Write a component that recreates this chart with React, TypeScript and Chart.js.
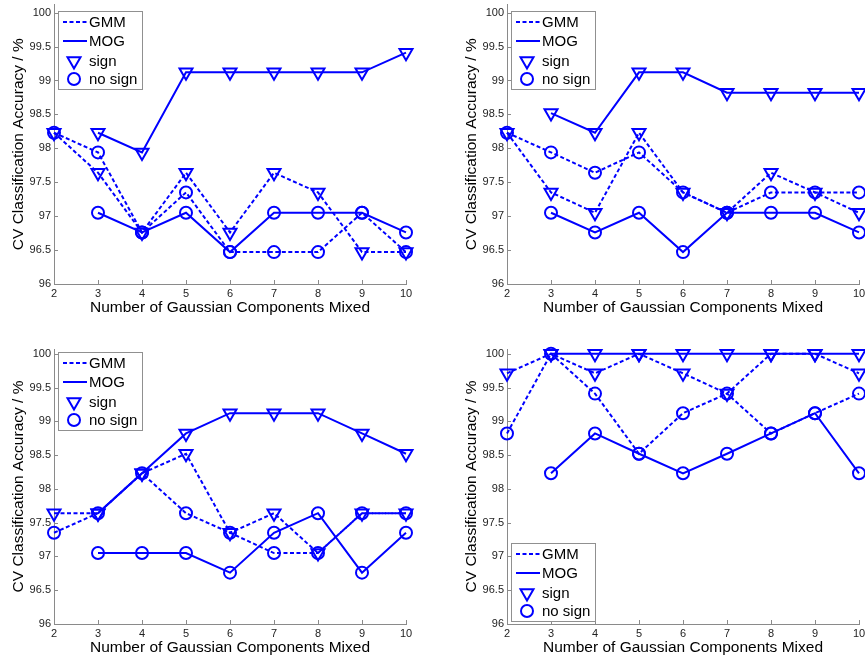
import React, { useEffect, useRef } from "react";
import { Chart, registerables } from "chart.js";

Chart.register(...registerables);

// ---------- data ----------
const components = [2, 3, 4, 5, 6, 7, 8, 9, 10];
const yTickValues = [96, 96.5, 97, 97.5, 98, 98.5, 99, 99.5, 100];

// Panel A (top-left)
const aGmmSign = [98.23, 97.64, 96.76, 97.64, 96.76, 97.64, 97.35, 96.47, 96.47];
const aGmmNoSign = [98.23, 97.94, 96.76, 97.35, 96.47, 96.47, 96.47, 97.05, 96.47];
const aMogSign = [null, 98.23, 97.94, 99.12, 99.12, 99.12, 99.12, 99.12, 99.41];
const aMogNoSign = [null, 97.05, 96.76, 97.05, 96.47, 97.05, 97.05, 97.05, 96.76];

// Panel B (top-right)
const bGmmSign = [98.23, 97.35, 97.05, 98.23, 97.35, 97.05, 97.64, 97.35, 97.05];
const bGmmNoSign = [98.23, 97.94, 97.64, 97.94, 97.35, 97.05, 97.35, 97.35, 97.35];
const bMogSign = [null, 98.52, 98.23, 99.12, 99.12, 98.82, 98.82, 98.82, 98.82];
const bMogNoSign = [null, 97.05, 96.76, 97.05, 96.47, 97.05, 97.05, 97.05, 96.76];

// Panel C (bottom-left)
const cGmmSign = [97.64, 97.64, 98.23, 98.52, 97.35, 97.64, 97.05, 97.64, 97.64];
const cGmmNoSign = [97.35, 97.64, 98.23, 97.64, 97.35, 97.05, 97.05, 97.64, 97.64];
const cMogSign = [null, 97.64, 98.23, 98.82, 99.12, 99.12, 99.12, 98.82, 98.52];
const cMogNoSign = [null, 97.05, 97.05, 97.05, 96.76, 97.35, 97.64, 96.76, 97.35];

// Panel D (bottom-right)
const dGmmSign = [99.71, 100, 99.71, 100, 99.71, 99.41, 100, 100, 99.71];
const dGmmNoSign = [98.82, 100, 99.41, 98.52, 99.12, 99.41, 98.82, 99.12, 99.41];
const dMogSign = [null, 100, 100, 100, 100, 100, 100, 100, 100];
const dMogNoSign = [null, 98.23, 98.82, 98.52, 98.23, 98.52, 98.82, 99.12, 98.23];

const legendLabels = ["GMM", "MOG", "sign", "no sign"];
const xTitle = "Number of Gaussian Components Mixed";
const yTitle = "CV Classification Accuracy / %";

// ---------- styles ----------
const BLUE = "#0000ff";
const AXIS = "#8a8a8a";
const FONT = "'Liberation Sans', Arial, Helvetica, sans-serif";
const DASH = [4, 2.5];
const TRI_R = 7.5;
const CIRC_R = 6;

type Num = number | null;

function toPoints(vals: Num[]) {
  return components.map((c, i) => ({ x: c, y: vals[i] }));
}

function makeDataset(vals: Num[], dashed: boolean, marker: "triangle" | "circle") {
  return {
    data: toPoints(vals),
    borderColor: BLUE,
    borderWidth: 2,
    borderDash: dashed ? DASH : [],
    tension: 0,
    fill: false,
    clip: false,
    spanGaps: false,
    pointStyle: marker,
    pointRotation: marker === "triangle" ? 180 : 0,
    pointRadius: marker === "triangle" ? TRI_R : CIRC_R,
    pointBorderWidth: 2,
    pointBorderColor: BLUE,
    pointBackgroundColor: "rgba(0,0,0,0)",
    pointHoverRadius: 6,
  };
}

const tickPlugin = {
  id: "inwardTicks",
  afterDatasetsDraw(chart: any) {
    const { ctx, chartArea, scales } = chart;
    ctx.save();
    ctx.strokeStyle = AXIS;
    ctx.lineWidth = 1;
    ctx.beginPath();
    for (const c of components) {
      const px = Math.round(scales.x.getPixelForValue(c)) + 0.5;
      ctx.moveTo(px, chartArea.bottom);
      ctx.lineTo(px, chartArea.bottom - 4);
    }
    for (const v of yTickValues) {
      const py = Math.round(scales.y.getPixelForValue(v)) + 0.5;
      ctx.moveTo(chartArea.left, py);
      ctx.lineTo(chartArea.left + 4, py);
    }
    ctx.stroke();
    ctx.restore();
  },
};

function legendPlugin(boxX: number, boxY: number) {
  return {
    id: "boxLegend",
    afterDraw(chart: any) {
      const ctx = chart.ctx;
      const w = 84;
      const h = 78;
      ctx.save();
      ctx.fillStyle = "#ffffff";
      ctx.fillRect(boxX, boxY, w, h);
      ctx.strokeStyle = "#909090";
      ctx.lineWidth = 1;
      ctx.strokeRect(boxX + 0.5, boxY + 0.5, w, h);
      const rows = [11, 30, 50, 68];
      ctx.font = `15px ${FONT}`;
      ctx.textBaseline = "middle";
      ctx.textAlign = "left";
      rows.forEach((dy, i) => {
        const cy = boxY + dy;
        ctx.strokeStyle = BLUE;
        ctx.lineWidth = 2;
        if (i === 0 || i === 1) {
          ctx.setLineDash(i === 0 ? DASH : []);
          ctx.beginPath();
          ctx.moveTo(boxX + 5, cy);
          ctx.lineTo(boxX + 29, cy);
          ctx.stroke();
          ctx.setLineDash([]);
        } else if (i === 2) {
          const r = TRI_R;
          const cx = boxX + 16;
          ctx.beginPath();
          ctx.moveTo(cx, cy + r);
          ctx.lineTo(cx - r * 0.866, cy - r / 2);
          ctx.lineTo(cx + r * 0.866, cy - r / 2);
          ctx.closePath();
          ctx.stroke();
        } else {
          ctx.beginPath();
          ctx.arc(boxX + 16, cy, CIRC_R, 0, Math.PI * 2);
          ctx.stroke();
        }
        ctx.fillStyle = "#000000";
        ctx.fillText(legendLabels[i], boxX + 31, cy + 1);
      });
      ctx.restore();
    },
  };
}

function zeroPad(s: any) {
  s.paddingTop = 0;
  s.paddingBottom = 0;
  s.paddingLeft = 0;
  s.paddingRight = 0;
}

interface PanelProps {
  left: number;
  top: number;
  gmmSign: Num[];
  gmmNoSign: Num[];
  mogSign: Num[];
  mogNoSign: Num[];
  legendX: number;
  legendY: number;
  yMax: number;
  padTop: number;
}

function Panel(p: PanelProps) {
  const ref = useRef<HTMLCanvasElement>(null);
  useEffect(() => {
    if (!ref.current) return;
    const chart = new Chart(ref.current, {
      type: "line",
      data: {
        datasets: [
          makeDataset(p.gmmSign, true, "triangle"),
          makeDataset(p.gmmNoSign, true, "circle"),
          makeDataset(p.mogSign, false, "triangle"),
          makeDataset(p.mogNoSign, false, "circle"),
        ] as any,
      },
      options: {
        animation: false,
        responsive: false,
        devicePixelRatio: 1,
        events: [],
        layout: {
          autoPadding: false,
          padding: { left: 0, top: p.padTop, right: 26, bottom: 0 },
        },
        plugins: {
          legend: { display: false },
          tooltip: { enabled: false },
        },
        scales: {
          x: {
            type: "linear",
            min: 2,
            max: 10,
            grid: { display: false, drawTicks: false },
            border: { display: true, color: AXIS, width: 1 },
            ticks: {
              stepSize: 1,
              padding: 3,
              maxRotation: 0,
              autoSkip: false,
              color: "#222222",
              font: { family: FONT, size: 11 },
            },
            title: {
              display: true,
              text: xTitle,
              color: "#000000",
              font: { family: FONT, size: 15.5 },
              padding: { top: 0, bottom: 3 },
            },
            afterFit: (s: any) => {
              s.height = 36;
              zeroPad(s);
            },
          },
          y: {
            type: "linear",
            min: 96,
            max: p.yMax,
            grid: { display: false, drawTicks: false },
            border: { display: true, color: AXIS, width: 1 },
            ticks: {
              stepSize: 0.5,
              includeBounds: false,
              padding: 3,
              color: "#222222",
              font: { family: FONT, size: 11 },
              callback: (v: any) => String(Math.round(Number(v) * 10) / 10),
            },
            title: {
              display: true,
              text: yTitle,
              color: "#000000",
              font: { family: FONT, size: 15.5 },
              padding: { top: 9, bottom: 0 },
            },
            afterFit: (s: any) => {
              s.width = 54;
              zeroPad(s);
            },
          },
        },
      } as any,
      plugins: [tickPlugin, legendPlugin(p.legendX, p.legendY)],
    });
    return () => chart.destroy();
  }, []);
  return (
    <canvas
      ref={ref}
      width={432}
      height={320}
      style={{ position: "absolute", left: p.left, top: p.top, width: 432, height: 320, display: "block" }}
    />
  );
}

export default function App() {
  return (
    <div
      style={{
        position: "absolute",
        left: 0,
        top: 0,
        width: 865,
        height: 657,
        overflow: "hidden",
        background: "#ffffff",
      }}
    >
      <Panel left={0} top={0} gmmSign={aGmmSign} gmmNoSign={aGmmNoSign} mogSign={aMogSign} mogNoSign={aMogNoSign} legendX={58} legendY={11} yMax={100.12} padTop={4.5} />
      <Panel left={453} top={0} gmmSign={bGmmSign} gmmNoSign={bGmmNoSign} mogSign={bMogSign} mogNoSign={bMogNoSign} legendX={58} legendY={11} yMax={100.12} padTop={4.5} />
      <Panel left={0} top={340} gmmSign={cGmmSign} gmmNoSign={cGmmNoSign} mogSign={cMogSign} mogNoSign={cMogNoSign} legendX={58} legendY={12} yMax={100.07} padTop={9} />
      <Panel left={453} top={340} gmmSign={dGmmSign} gmmNoSign={dGmmNoSign} mogSign={dMogSign} mogNoSign={dMogNoSign} legendX={58} legendY={203} yMax={100.07} padTop={9} />
    </div>
  );
}
